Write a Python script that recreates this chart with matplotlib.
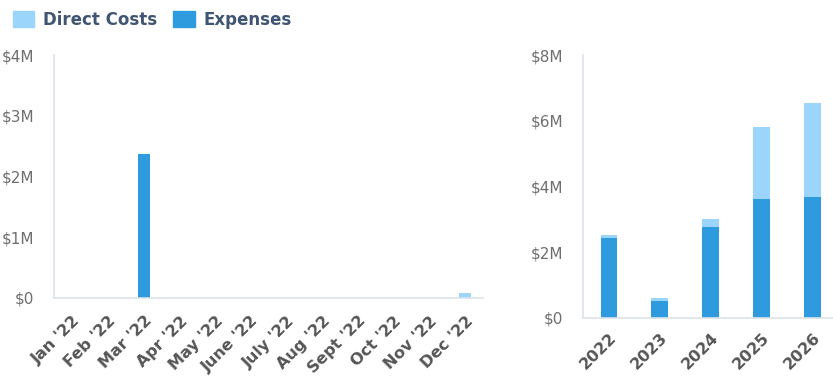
import matplotlib
matplotlib.use("Agg")
import matplotlib.pyplot as plt
from matplotlib.patches import Patch
from matplotlib.ticker import FuncFormatter

plt.rcParams["font.family"] = ["DejaVu Sans"]

months = ["Jan '22", "Feb '22", "Mar '22", "Apr '22", "May '22", "June '22",
          "July '22", "Aug '22", "Sept '22", "Oct '22", "Nov '22", "Dec '22"]
monthly_expenses = [0, 0, 2.37, 0, 0, 0, 0, 0, 0, 0, 0, 0]          # $M
monthly_direct = [0, 0, 0, 0, 0, 0, 0, 0, 0, 0, 0, 0.08]            # $M

years = ["2022", "2023", "2024", "2025", "2026"]
yearly_expenses = [2.44, 0.52, 2.78, 3.63, 3.67]                   # $M
yearly_direct = [0.08, 0.10, 0.22, 2.17, 2.86]                     # $M

C_DIRECT = "#9BD5FC"
C_EXP = "#2D9BDE"
SPINE = "#DCE3EA"
YTICK = "#6E6E6E"
XTICK = "#555555"
LEG = "#3F5573"

fig = plt.figure(figsize=(8.33, 3.77), dpi=100)
ax1 = fig.add_axes([54/833, 1-298/377, 429/833, 243/377])
ax2 = fig.add_axes([583/833, 1-318/377, 250/833, 263/377])

fmt = FuncFormatter(lambda v, p: "$0" if v == 0 else f"${v:g}M")

def style(ax, labels, ymax, step, xpad):
    ax.set_ylim(0, ymax)
    ax.set_yticks([i * step for i in range(int(ymax / step) + 1)])
    ax.yaxis.set_major_formatter(fmt)
    for s in ["top", "right"]:
        ax.spines[s].set_visible(False)
    for s in ["left", "bottom"]:
        ax.spines[s].set_color(SPINE)
        ax.spines[s].set_linewidth(1.2)
    ax.tick_params(axis="both", length=0)
    ax.tick_params(axis="y", labelsize=11, labelcolor=YTICK, pad=14)
    ax.set_xticks(range(len(labels)))
    ax.set_xticklabels(labels, rotation=45, ha="right", rotation_mode="anchor",
                       fontsize=11.5, fontweight="bold", color=XTICK)
    ax.tick_params(axis="x", pad=xpad)

x1 = range(len(months))
ax1.bar(x1, monthly_expenses, width=0.33, color=C_EXP)
ax1.bar(x1, monthly_direct, width=0.33, bottom=monthly_expenses, color=C_DIRECT)
style(ax1, months, 4, 1, 11)
ax1.set_xlim(-0.52, 11.5)

x2 = range(len(years))
ax2.bar(x2, yearly_expenses, width=0.33, color=C_EXP)
ax2.bar(x2, yearly_direct, width=0.33, bottom=yearly_expenses, color=C_DIRECT)
style(ax2, years, 8, 2, 9)
ax2.set_xlim(-0.51, 4.4)

handles = [Patch(color=C_DIRECT, label="Direct Costs"), Patch(color=C_EXP, label="Expenses")]
fig.legend(handles=handles, loc="upper left", bbox_to_anchor=(-0.003, 1.011), ncol=2,
           frameon=False, handlelength=1.3, handleheight=1.1, handletextpad=0.5,
           columnspacing=1.0, prop={"weight": "bold", "size": 12}, labelcolor=LEG)

fig.savefig("out.png", dpi=100)
